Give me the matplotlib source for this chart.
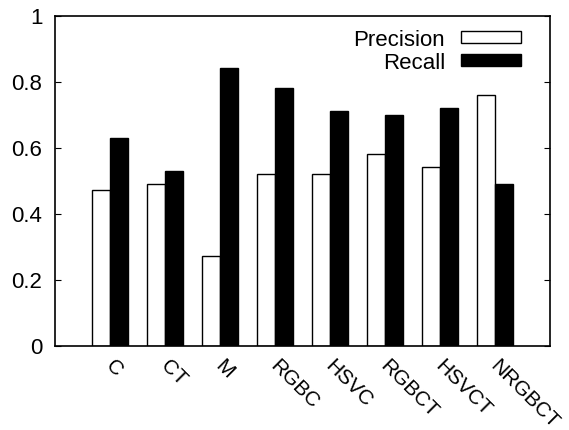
import matplotlib
matplotlib.use("Agg")
import matplotlib.pyplot as plt
from matplotlib.patches import Patch
import numpy as np

plt.rcParams['font.family'] = ['Liberation Sans', 'DejaVu Sans']

categories = ["C", "CT", "M", "RGBC", "HSVC", "RGBCT", "HSVCT", "NRGBCT"]
precision = [0.47, 0.49, 0.27, 0.52, 0.52, 0.58, 0.54, 0.76]
recall = [0.63, 0.53, 0.84, 0.78, 0.71, 0.70, 0.72, 0.49]
yticks = [0, 0.2, 0.4, 0.6, 0.8, 1]
ytick_labels = ["0", "0.2", "0.4", "0.6", "0.8", "1"]

fig = plt.figure(figsize=(5.69, 4.31), dpi=100)
ax = fig.add_axes([55/569, 1-346.5/431, (550-55)/569, (346.5-16.5)/431])

x = np.arange(1, len(categories) + 1)
w = 1/3
ax.bar(x - w/2, precision, w, facecolor='white', edgecolor='black', linewidth=1.0, label='Precision')
ax.bar(x + w/2, recall, w, facecolor='black', edgecolor='black', linewidth=1.0, label='Recall')

ax.set_xlim(0, 9)
ax.set_ylim(0, 1)
ax.set_yticks(yticks)
ax.set_yticklabels(ytick_labels, fontsize=16)
ax.tick_params(axis='y', direction='in', length=4, width=0.8, pad=9, right=True, left=True)
ax.set_xticks(x)
ax.set_xticklabels([])
ax.tick_params(axis='x', length=0)
for xi, lab in zip(x, categories):
    ax.annotate(lab, xy=(xi, 0), xycoords=('data', 'axes fraction'),
                xytext=(-1, -12), textcoords='offset points',
                rotation=-45, rotation_mode='anchor', ha='left', va='center', fontsize=15)
for s in ax.spines.values():
    s.set_linewidth(1.2)

handles = [Patch(facecolor='white', edgecolor='black', linewidth=1.0),
           Patch(facecolor='black', edgecolor='black', linewidth=1.0)]
ax.legend(handles, ['Precision', 'Recall'], loc='upper right', frameon=False,
          markerfirst=False, fontsize=16, handlelength=2.7, handleheight=0.45,
          handletextpad=0.7, labelspacing=0.1, borderaxespad=0.2,
          bbox_to_anchor=(1 - 16/495, 1))

fig.savefig("out.png", dpi=100)
